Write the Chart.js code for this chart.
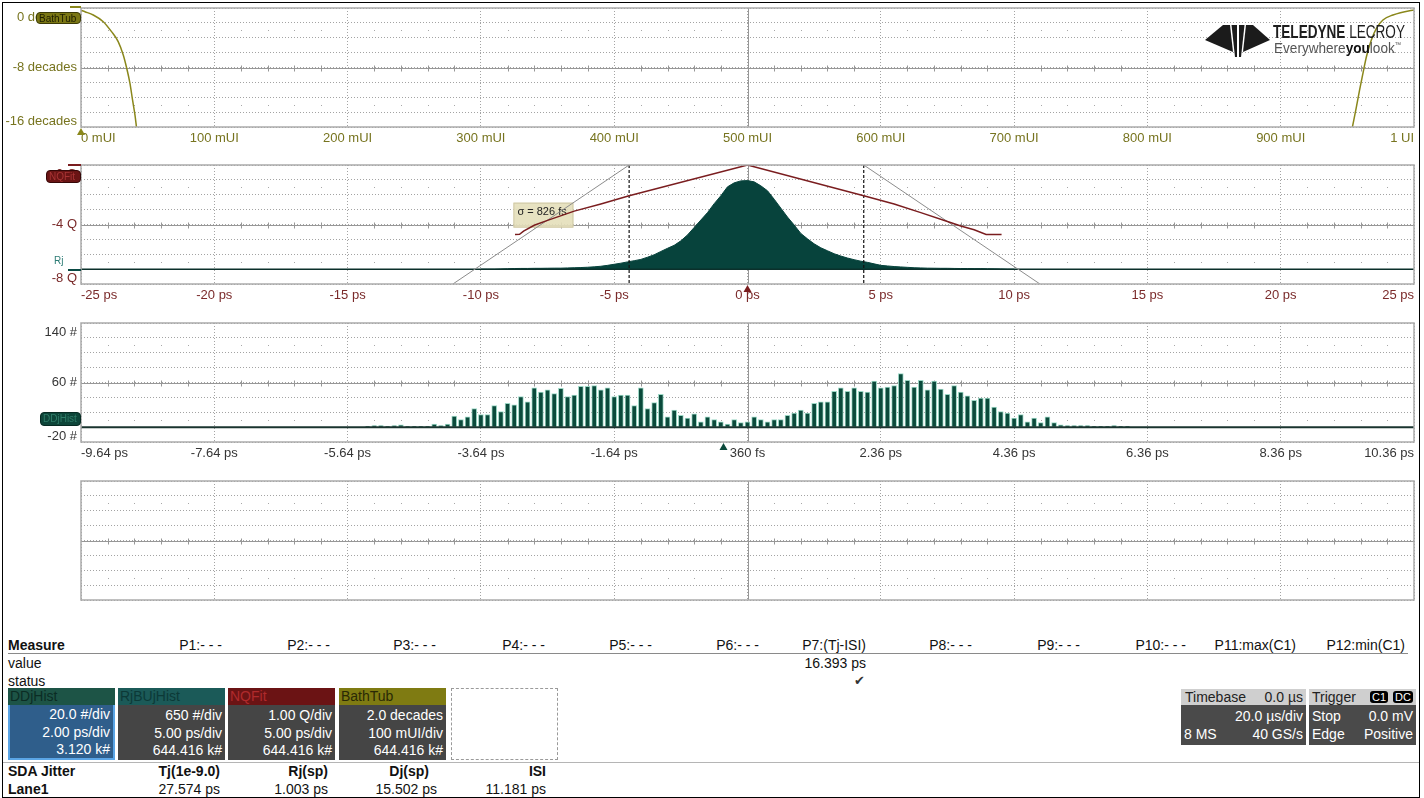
<!DOCTYPE html>
<html lang="en">
<head>
<meta charset="utf-8">
<title>SDA Jitter – Lane1</title>
<script src="https://cdn.jsdelivr.net/npm/chart.js@4.4.1/dist/chart.umd.min.js"></script>
<style>
  html, body { margin:0; padding:0; background:#fff; }
  body { position:relative; width:1424px; height:798px; overflow:hidden;
         font-family:"Liberation Sans", Arial, sans-serif; color:#111; }
  canvas { position:absolute; left:0; z-index:1; }
  .a { position:absolute; white-space:nowrap; z-index:2; }
  .frame { position:absolute; left:2px; top:2px; width:1416px; height:794px; border:1px solid #000; z-index:5; pointer-events:none; }
  .badge { position:absolute; box-sizing:border-box; border-radius:4px; font-size:10px; line-height:11px;
           padding:0 2px; overflow:hidden; white-space:nowrap; z-index:3; }
  .row { position:absolute; font-size:14px; line-height:16px; white-space:nowrap; }
  .desc { position:absolute; top:688px; width:107px; height:72px; font-size:14px; box-sizing:border-box; }
  .desc .hd { height:17px; line-height:17px; padding-left:2px; overflow:hidden; }
  .desc .bd { height:55px; box-sizing:border-box; text-align:right; padding:2px 3px 0 0; line-height:17.5px; color:#fff; }
  .tb { position:absolute; top:689px; height:56px; box-sizing:border-box; font-size:14px; }
  .tb .hd { height:16px; line-height:16px; background:#cfcfcf; color:#222; position:relative; }
  .tb .bd { height:40px; background:#4a4a4a; color:#fff; position:relative; }
  .tb span { position:absolute; white-space:nowrap; }
  .chip { background:#000; color:#fff; border-radius:3px; font-size:11px; line-height:12px; padding:0 2px; top:2px; }
  .fit { transform-origin:0 0; }
</style>
</head>
<body>
<canvas id="bathCanvas"></canvas>
<canvas id="nqCanvas"></canvas>
<canvas id="ddjCanvas"></canvas>
<canvas id="spareCanvas"></canvas>

<script>
// ---------------- data ----------------
// Bathtub curve: log10(BER) in decades against sampling point in mUI
const bathLeftUI    = [0, 3, 9.2, 16.7, 22.9, 27.9, 31.7, 34.3, 36.7, 38.7, 40.5, 41.6];
const bathLeftBER   = [-0.3, -0.5, -0.94, -1.84, -3.18, -4.52, -6.32, -8.1, -10.1, -12.4, -14.4, -16];
const bathRightUI   = [953.8, 956.8, 959.2, 961.7, 964.3, 968, 971.8, 976.7, 984.2, 996.7, 1000];
const bathRightBER  = [-16, -13.3, -11.0, -8.78, -6.55, -4.3, -2.73, -1.61, -0.94, -0.36, -0.3];

// RjBUj histogram (ps, counts) and its zero line
const rjTimes  = [-10,-9.75,-9.5,-9.25,-9,-8.75,-8.5,-8.25,-8,-7.75,-7.5,-7.25,-7,-6.75,-6.5,-6.25,-6,-5.75,-5.5,-5.25,-5,-4.75,-4.5,-4.25,-4,-3.75,-3.5,-3.25,-3,-2.75,-2.5,-2.25,-2,-1.75,-1.5,-1.25,-1,-0.75,-0.5,-0.25,0,0.25,0.5,0.75,1,1.25,1.5,1.75,2,2.25,2.5,2.75,3,3.25,3.5,3.75,4,4.25,4.5,4.75,5,5.25,5.5,5.75,6,6.25,6.5,6.75,7,7.25,7.5,7.75,8,8.25,8.5,8.75,9,9.25,9.5,9.75,10];
const rjCounts = [0,0,0,9,17,26,30,30,35,35,39,43,43,52,61,69,82,100,126,165,212,260,316,368,425,520,628,771,910,1040,1235,1495,1820,2145,2470,2860,3206,3596,3770,3856,3869,3813,3640,3423,3055,2665,2275,1928,1560,1322,1105,932,802,672,572,485,412,347,295,230,165,139,113,95,78,61,52,43,39,35,35,30,26,26,22,22,17,13,9,0,0];
const rjBaseTimes  = [-25, 25];
const rjBaseCounts = [0, 0];

// Normal-Q fit (ps, Q)
const nqTimes = [-8.72, -8.55, -8.4, -8.0, -7.5, -6.5, -5.5, -4.44, 0, 4.36, 5.5, 6.5, 7.5, 8.0, 8.5, 8.95, 9.53];
const nqQ     = [-4.68, -4.66, -4.45, -4.05, -3.72, -3.1, -2.62, -2.07, 0, -2.07, -2.62, -3.2, -3.8, -4.1, -4.35, -4.67, -4.67];
// Rj tail fit lines (slope 1/sigma) and the Dj limits
const fitLeftTimes  = [-4.44, -11.05];
const fitLeftQ      = [0, -8];
const fitRightTimes = [4.36, 10.97];
const fitRightQ     = [0, -8];
const djLeftTimes   = [-4.44, -4.44];
const djRightTimes  = [4.36, 4.36];
const djQ           = [0, -8];

// DDj histogram (bin centre in ps, counts)
const ddjBins = [-5.34,-5.24,-5.14,-5.04,-4.94,-4.84,-4.74,-4.64,-4.54,-4.44,-4.34,-4.24,-4.14,-4.04,-3.94,-3.84,-3.74,-3.64,-3.54,-3.44,-3.34,-3.24,-3.14,-3.04,-2.94,-2.84,-2.74,-2.64,-2.54,-2.44,-2.34,-2.24,-2.14,-2.04,-1.94,-1.84,-1.74,-1.64,-1.54,-1.44,-1.34,-1.24,-1.14,-1.04,-0.94,-0.84,-0.74,-0.64,-0.54,-0.44,-0.34,-0.24,-0.14,-0.04,0.06,0.16,0.26,0.36,0.46,0.56,0.66,0.76,0.86,0.96,1.06,1.16,1.26,1.36,1.46,1.56,1.66,1.76,1.86,1.96,2.06,2.16,2.26,2.36,2.46,2.56,2.66,2.76,2.86,2.96,3.06,3.16,3.26,3.36,3.46,3.56,3.66,3.76,3.86,3.96,4.06,4.16,4.26,4.36,4.46,4.56,4.66,4.76,4.86,4.96,5.06,5.16,5.26,5.36,5.46,5.56,5.66,5.76,5.86,5.96,6.06];
const ddjCounts = [1,2,2,1,2,3,1,1,1,1, 4,2,4,15,10,14,25,17,17,29, 21,32,30,41,34,53,47,50,45,52, 41,43,55,55,56,50,53,41,43,43, 29,53,25,33,44,14,23,16,12,18, 7,14,10,7,4,10,6,7,14,10, 7,10,10,16,19,23,19,32,34,34, 48,53,48,53,48,47,62,53,54,56, 72,63,54,63,50,62,51,44,56,47, 42,36,39,39,27,21,19,12,17,7, 12,6,14,6,3,2,2,2,2,1, 1,1,2,1,1];
const ddjBaseTimes  = [-9.64, 10.36];
const ddjBaseCounts = [0, 0];

// Axis tick labels drawn on the left of each grid
const bathYTicks = [0, -8, -16];
const nqYTicks   = [0, -4, -8];
const ddjYTicks  = [140, 60, -20];

// ---------------- layout helpers ----------------
const W = 1424, PLOT_LEFT = 81, PLOT_RIGHT = 1414, PLOT_H = 119, PAD_TOP = 6, AXIS_H = 24;
const GRID = '#a3a3a3';
Chart.defaults.font.family = '"Liberation Sans", Arial, sans-serif';
Chart.defaults.font.size = 13;

function mount(id, plotTop) {
  const c = document.getElementById(id);
  c.width = W;
  c.height = PAD_TOP + PLOT_H + AXIS_H;
  c.style.top = (plotTop - PAD_TOP) + 'px';
  return c;
}
const pairs = (xs, ys) => xs.map((x, i) => ({ x, y: ys[i] }));

// Oscilloscope style graticule: centre cross with minor ticks, dot rows, frame,
// left-hand labels and the zero marker under the axis.
const scopePlugin = {
  id: 'scope',
  beforeDatasetsDraw(chart, args, o) {
    const { ctx, chartArea: a } = chart;
    const xs = chart.scales.x, ys = chart.scales.y;
    const xDiv = (a.right - a.left) / 10, yDiv = (a.bottom - a.top) / 8;
    const cx = Math.round(xs.getPixelForValue((xs.min + xs.max) / 2)) + 0.5;
    const cy = Math.round(ys.getPixelForValue((ys.min + ys.max) / 2)) + 0.5;
    ctx.save();
    ctx.strokeStyle = '#979797';
    ctx.lineWidth = 1;
    ctx.beginPath();
    ctx.moveTo(a.left, cy); ctx.lineTo(a.right, cy);
    ctx.moveTo(cx, a.top); ctx.lineTo(cx, a.bottom);
    for (let i = 1; i < 50; i++) {
      if (i % 5 === 0) continue;
      const x = Math.round(a.left + i * xDiv / 5) + 0.5;
      ctx.moveTo(x, cy - 3); ctx.lineTo(x, cy + 3);
    }
    ctx.stroke();
    ctx.fillStyle = '#a8a8a8';
    [a.top + 1.5 * yDiv, a.bottom - 1.5 * yDiv].forEach(y => {
      for (let i = 1; i < 50; i++) {
        if (i % 5 === 0) continue;
        ctx.fillRect(Math.round(a.left + i * xDiv / 5), Math.round(y), 1, 1);
      }
    });
    if (o.note) {
      const nx = xs.getPixelForValue(o.note.x), ny = ys.getPixelForValue(o.note.y);
      ctx.fillStyle = 'rgba(228,223,186,0.9)';
      ctx.fillRect(nx, ny, 60, 25);
      ctx.strokeStyle = '#cfc9a6';
      ctx.strokeRect(nx + 0.5, ny + 0.5, 59, 24);
      ctx.fillStyle = '#222';
      ctx.font = '11px "Liberation Sans", Arial, sans-serif';
      ctx.textBaseline = 'middle';
      ctx.textAlign = 'left';
      ctx.fillText(o.note.text, nx + 4, ny + 9);
    }
    ctx.restore();
  },
  afterDraw(chart, args, o) {
    const { ctx, chartArea: a } = chart;
    const xs = chart.scales.x, ys = chart.scales.y;
    ctx.save();
    ctx.strokeStyle = '#ababab';
    ctx.lineWidth = 1.5;
    ctx.strokeRect(a.left, a.top, a.right - a.left, a.bottom - a.top);
    if (o.yLabels) {
      ctx.font = '13px "Liberation Sans", Arial, sans-serif';
      ctx.fillStyle = o.color;
      ctx.textAlign = 'right';
      o.yLabels.forEach(l => {
        let y = ys.getPixelForValue(l.v);
        if (l.v === ys.max) { ctx.textBaseline = 'top'; y = a.top + 3; }
        else if (l.v === ys.min) { ctx.textBaseline = 'bottom'; y = a.bottom + 1; }
        else ctx.textBaseline = 'middle';
        ctx.fillText(l.t, a.left - 4, y);
      });
    }
    if (o.marker) {
      const x = xs.getPixelForValue(o.marker.value);
      ctx.fillStyle = o.marker.color;
      ctx.beginPath();
      ctx.moveTo(x, a.bottom + 1);
      ctx.lineTo(x - 4, a.bottom + 8);
      ctx.lineTo(x + 4, a.bottom + 8);
      ctx.closePath();
      ctx.fill();
    }
    ctx.restore();
  }
};

function scaleX(min, max, step, color, fmt) {
  return {
    type: 'linear', min, max, offset: false,
    grid: { color: GRID, lineWidth: 1, drawTicks: false, offset: false },
    border: { display: false, dash: [1, 2] },
    ticks: {
      display: !!fmt, stepSize: step, autoSkip: false, maxRotation: 0, align: 'inner',
      padding: 4, color, font: { size: 13 }, callback: v => fmt ? fmt(v) : ''
    },
    afterFit: s => { s.height = AXIS_H; }
  };
}
function scaleY(min, max, step) {
  return {
    type: 'linear', min, max,
    grid: { color: GRID, lineWidth: 1, drawTicks: false },
    border: { display: false, dash: [1, 2] },
    ticks: { display: false, stepSize: step },
    afterFit: s => { s.width = 0; }
  };
}
function baseOptions(scales, scope) {
  return {
    responsive: false, animation: false, events: [], devicePixelRatio: 1,
    layout: { padding: { left: PLOT_LEFT, right: W - PLOT_RIGHT, top: PAD_TOP, bottom: 0 } },
    plugins: { legend: { display: false }, tooltip: { enabled: false }, scope },
    scales
  };
}

// ---------------- bathtub ----------------
const OLIVE = '#8a871b', OLIVE_TXT = '#77741f';
new Chart(mount('bathCanvas', 8), {
  type: 'line',
  data: { datasets: [
    { data: pairs(bathLeftUI, bathLeftBER), borderColor: OLIVE, borderWidth: 1.5, pointRadius: 0, cubicInterpolationMode: 'monotone' },
    { data: pairs(bathRightUI, bathRightBER), borderColor: OLIVE, borderWidth: 1.5, pointRadius: 0, cubicInterpolationMode: 'monotone' }
  ]},
  options: baseOptions({
    x: scaleX(0, 1000, 100, OLIVE_TXT, v => v === 0 ? '0 mUI' : (v === 1000 ? '1 UI' : v + ' mUI')),
    y: scaleY(-16, 0, 2)
  }, {
    yLabels: bathYTicks.map(v => ({ v, t: v + ' decades' })),
    color: OLIVE_TXT,
    marker: { value: 0, color: OLIVE }
  }),
  plugins: [scopePlugin]
});

// ---------------- RjBUj histogram + NQ fit ----------------
const RED = '#7a1d1f', RED_TXT = '#7a2a2a', TEAL = '#07433c';
const nqScales = {
  x: scaleX(-25, 25, 5, RED_TXT, v => v + ' ps'),
  y: scaleY(-8, 0, 1),
  yh: { type: 'linear', min: -650, max: 4550, display: false }
};
new Chart(mount('nqCanvas', 165), {
  type: 'line',
  data: { datasets: [
    { data: pairs(rjTimes, rjCounts), yAxisID: 'yh', borderColor: TEAL, backgroundColor: TEAL, borderWidth: 1,
      pointRadius: 0, fill: 'origin', order: 6 },
    { data: pairs(rjBaseTimes, rjBaseCounts), yAxisID: 'yh', borderColor: '#0b302b', borderWidth: 1.5, pointRadius: 0, order: 5 },
    { data: pairs(fitLeftTimes, fitLeftQ), borderColor: '#8c8c8c', borderWidth: 1, pointRadius: 0, order: 4 },
    { data: pairs(fitRightTimes, fitRightQ), borderColor: '#8c8c8c', borderWidth: 1, pointRadius: 0, order: 4 },
    { data: pairs(djLeftTimes, djQ), borderColor: '#111', borderWidth: 1.2, borderDash: [3, 2], pointRadius: 0, order: 3 },
    { data: pairs(djRightTimes, djQ), borderColor: '#111', borderWidth: 1.2, borderDash: [3, 2], pointRadius: 0, order: 3 },
    { data: pairs(nqTimes, nqQ), borderColor: RED, borderWidth: 1.5, pointRadius: 0, order: 1 }
  ]},
  options: baseOptions(nqScales, {
    yLabels: nqYTicks.map(v => ({ v, t: v + ' Q' })),
    color: RED_TXT,
    marker: { value: 0, color: RED },
    note: { x: -8.78, y: -2.53, text: 'σ = 826 fs' }
  }),
  plugins: [scopePlugin]
});

// ---------------- DDj histogram ----------------
const DDJ_TXT = '#353535';
new Chart(mount('ddjCanvas', 323), {
  type: 'bar',
  data: { datasets: [
    { type: 'bar', data: pairs(ddjBins, ddjCounts), backgroundColor: '#0b4a3b', borderColor: '#9dd8c6',
      borderWidth: 1, barThickness: 5, grouped: false, order: 2 },
    { type: 'line', data: pairs(ddjBaseTimes, ddjBaseCounts), borderColor: '#1a342f', borderWidth: 2, pointRadius: 0, order: 1 }
  ]},
  options: baseOptions({
    x: scaleX(-9.64, 10.36, 2, DDJ_TXT, v => Math.abs(v - 0.36) < 1e-6 ? '360 fs' : v.toFixed(2) + ' ps'),
    y: scaleY(-20, 140, 20)
  }, {
    yLabels: ddjYTicks.map(v => ({ v, t: v + ' #' })),
    color: DDJ_TXT,
    marker: { value: 0, color: '#0b4a3b' }
  }),
  plugins: [scopePlugin]
});

// ---------------- unused grid ----------------
new Chart(mount('spareCanvas', 481), {
  type: 'line',
  data: { datasets: [] },
  options: baseOptions({ x: scaleX(0, 10, 1, '#333', null), y: scaleY(0, 8, 1) }, {}),
  plugins: [scopePlugin]
});
</script>

<!-- trace badges -->
<div class="a" style="left:70px;top:6px;width:11px;height:2px;background:#8a871b"></div>
<div class="badge" style="left:36px;top:12px;width:45px;height:12px;background:#7a7614;border:1px solid #3b3a08;color:#1e1e00;">BathTub</div>
<div class="a" style="left:68px;top:164px;width:13px;height:2px;background:#7a1d1f"></div>
<div class="badge" style="left:46px;top:170px;width:35px;height:13px;background:#6a1414;border:1px solid #360808;color:#a83434;">NQFit</div>
<div class="a" style="left:54px;top:255px;font-size:10px;color:#2d7c75;">Rj</div>
<div class="a" style="left:68px;top:269px;width:13px;height:2px;background:#0a4a44"></div>
<div class="badge" style="left:40px;top:412px;width:41px;height:14px;background:#0d4539;border:1px solid #062a22;color:#2f7d68;line-height:12px;">DDjHist</div>

<!-- logo -->
<svg class="a" style="left:1200px;top:20px;" width="75" height="42" viewBox="1200 20 75 42">
  <polygon points="1205,40 1223,25 1230,25 1233,52" fill="#1b1b1b"/>
  <polygon points="1231.5,25 1237,25 1237,57 1235,57" fill="#1b1b1b"/>
  <polygon points="1239,25 1244.5,25 1241,57 1239,57" fill="#1b1b1b"/>
  <polygon points="1246,25 1253,25 1270,40 1243,52" fill="#1b1b1b"/>
</svg>
<div class="a fit" data-w="132" style="left:1273px;top:22px;font-size:18px;color:#1e1e1e;"><b>TELEDYNE</b> LECROY</div>
<div class="a fit" data-w="127" style="left:1274px;top:39px;font-size:15px;color:#555;">Everywhere<b style="color:#111">you</b>look<sup style="font-size:7px">™</sup></div>

<!-- measurement table -->
<div class="row" style="left:8px;top:637px;font-weight:bold;">Measure</div>
<div class="row" style="right:1202px;top:637px;">P1:- - -</div>
<div class="row" style="right:1094px;top:637px;">P2:- - -</div>
<div class="row" style="right:988px;top:637px;">P3:- - -</div>
<div class="row" style="right:879px;top:637px;">P4:- - -</div>
<div class="row" style="right:772px;top:637px;">P5:- - -</div>
<div class="row" style="right:665px;top:637px;">P6:- - -</div>
<div class="row" style="right:558px;top:637px;">P7:(Tj-ISI)</div>
<div class="row" style="right:452px;top:637px;">P8:- - -</div>
<div class="row" style="right:344px;top:637px;">P9:- - -</div>
<div class="row" style="right:238px;top:637px;">P10:- - -</div>
<div class="row" style="right:128px;top:637px;">P11:max(C1)</div>
<div class="row" style="right:19px;top:637px;">P12:min(C1)</div>
<div class="a" style="left:8px;top:653px;width:1400px;height:1px;background:#8a8a8a;"></div>
<div class="row" style="left:8px;top:655px;">value</div>
<div class="row" style="left:8px;top:673px;">status</div>
<div class="row" style="right:558px;top:655px;">16.393 ps</div>
<div class="row" style="right:559px;top:673px;font-size:13px;color:#333;">✔</div>

<!-- trace descriptors -->
<div class="desc" style="left:8px;">
  <div class="hd" style="background:#1d5446;color:#0b2c24;">DDjHist</div>
  <div class="bd" style="background:#2f5e8b;border:2px solid #5aa5e6;border-top:none;padding-top:1px;">20.0 #/div<br>2.00 ps/div<br>3.120 k#</div>
</div>
<div class="desc" style="left:118px;">
  <div class="hd" style="background:#1b5a58;color:#0c3937;">RjBUjHist</div>
  <div class="bd" style="background:#454545;">650 #/div<br>5.00 ps/div<br>644.416 k#</div>
</div>
<div class="desc" style="left:228px;">
  <div class="hd" style="background:#6b1314;color:#b02a2c;">NQFit</div>
  <div class="bd" style="background:#454545;">1.00 Q/div<br>5.00 ps/div<br>644.416 k#</div>
</div>
<div class="desc" style="left:339px;">
  <div class="hd" style="background:#7f7b12;color:#2a2905;">BathTub</div>
  <div class="bd" style="background:#454545;">2.0 decades<br>100 mUI/div<br>644.416 k#</div>
</div>
<div class="desc" style="left:451px;border:1px dashed #9a9a9a;"></div>

<!-- timebase / trigger -->
<div class="tb" style="left:1181px;width:125px;">
  <div class="hd"><span style="left:4px;">Timebase</span><span style="right:3px;">0.0 µs</span></div>
  <div class="bd"><span style="right:3px;top:3px;">20.0 µs/div</span><span style="left:3px;top:21px;">8 MS</span><span style="right:3px;top:21px;">40 GS/s</span></div>
</div>
<div class="tb" style="left:1309px;width:107px;">
  <div class="hd"><span style="left:3px;">Trigger</span><span class="chip" style="left:61px;">C1</span><span class="chip" style="right:3px;">DC</span></div>
  <div class="bd"><span style="left:3px;top:3px;">Stop</span><span style="right:3px;top:3px;">0.0 mV</span><span style="left:3px;top:21px;">Edge</span><span style="right:3px;top:21px;">Positive</span></div>
</div>

<!-- jitter summary -->
<div class="a" style="left:3px;top:762px;width:1416px;height:1px;background:#b5b5b5;"></div>
<div class="row" style="left:8px;top:763px;font-weight:bold;">SDA Jitter</div>
<div class="row" style="right:1204px;top:763px;font-weight:bold;">Tj(1e-9.0)</div>
<div class="row" style="right:1096px;top:763px;font-weight:bold;">Rj(sp)</div>
<div class="row" style="right:995px;top:763px;font-weight:bold;">Dj(sp)</div>
<div class="row" style="right:878px;top:763px;font-weight:bold;">ISI</div>
<div class="row" style="left:8px;top:781px;font-weight:bold;">Lane1</div>
<div class="row" style="right:1204px;top:781px;">27.574 ps</div>
<div class="row" style="right:1096px;top:781px;">1.003 ps</div>
<div class="row" style="right:987px;top:781px;">15.502 ps</div>
<div class="row" style="right:878px;top:781px;">11.181 ps</div>

<div class="frame"></div>
<script>
// Condense the logo lettering to its box width
document.querySelectorAll('.fit').forEach(el => {
  const w = el.getBoundingClientRect().width;
  const target = parseFloat(el.dataset.w);
  if (w > 0) el.style.transform = 'scaleX(' + (target / w).toFixed(3) + ')';
});
</script>
</body>
</html>
